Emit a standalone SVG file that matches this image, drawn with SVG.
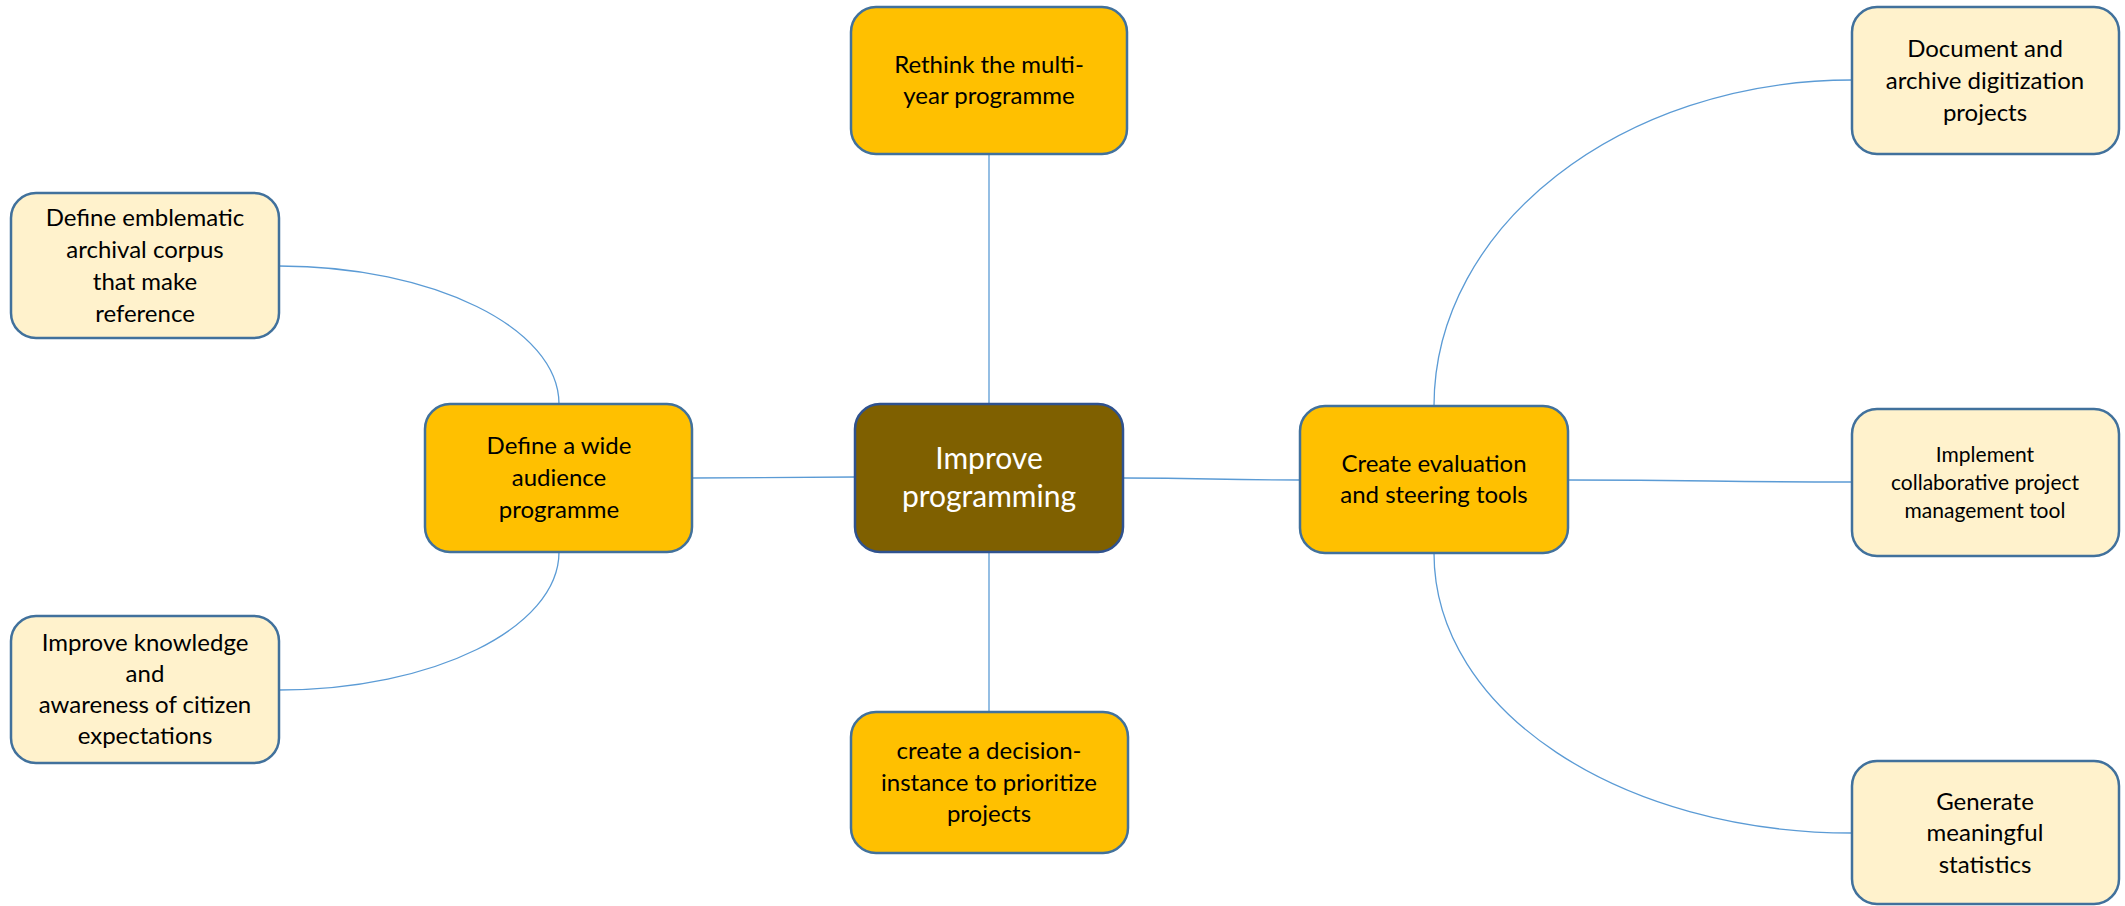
<svg xmlns="http://www.w3.org/2000/svg" width="2125" height="906" viewBox="0 0 2125 906">
<style>
.box{stroke:#41719C;stroke-width:2.5}
.main{fill:#FFC000}
.leaf{fill:#FFF2CC}
.root{fill:#7F6000;stroke:#2F528F;stroke-width:2.5}
.t{font-family:Lato,"Open Sans","Liberation Sans",sans-serif;font-size:24px;fill:#000;text-anchor:middle}
.ts{font-size:21px}
.tr{font-size:30px;fill:#fff}
.c{fill:none;stroke:#5B9BD5;stroke-width:1.3}
</style>
<rect width="2125" height="906" fill="#fff"/>
<g id="connectors">
<path class="c" d="M989,154 L989,404"/>
<path class="c" d="M989,552 L989,712"/>
<path class="c" d="M692,478 L855,477"/>
<path class="c" d="M1123,478 C1211,478 1211,480 1300,480"/>
<path class="c" d="M279,266 C433,266 559,328 559,404"/>
<path class="c" d="M279,690 C433,690 559,628 559,552"/>
<path class="c" d="M1434,406 C1434,226 1622,80 1852,80"/>
<path class="c" d="M1568,480 C1710,480 1710,482 1852,482"/>
<path class="c" d="M1434,553 C1434,712 1622,833 1852,833"/>
</g>
<g id="root">
<rect class="root" x="855" y="404" width="268" height="148" rx="25"/>
<text class="t tr" x="989" y="469">Improve</text>
<text class="t tr" x="989" y="507">programming</text>
</g>
<g id="n-rethink">
<rect class="box main" x="851" y="7" width="276" height="147" rx="25"/>
<text class="t" x="989" y="73">Rethink the multi-</text>
<text class="t" x="989" y="104">year programme</text>
</g>
<g id="n-decision">
<rect class="box main" x="851" y="712" width="277" height="141" rx="25"/>
<text class="t" x="989" y="759">create a decision-</text>
<text class="t" x="989" y="791">instance to prioritize</text>
<text class="t" x="989" y="822">projects</text>
</g>
<g id="n-audience">
<rect class="box main" x="425" y="404" width="267" height="148" rx="25"/>
<text class="t" x="559" y="454">Define a wide</text>
<text class="t" x="559" y="486">audience</text>
<text class="t" x="559" y="518">programme</text>
</g>
<g id="n-evaluation">
<rect class="box main" x="1300" y="406" width="268" height="147" rx="25"/>
<text class="t" x="1434" y="472">Create evaluation</text>
<text class="t" x="1434" y="503">and steering tools</text>
</g>
<g id="n-emblematic">
<rect class="box leaf" x="11" y="193" width="268" height="145" rx="25"/>
<text class="t" x="145" y="226">Define emblematic</text>
<text class="t" x="145" y="258">archival corpus</text>
<text class="t" x="145" y="290">that make</text>
<text class="t" x="145" y="322">reference</text>
</g>
<g id="n-knowledge">
<rect class="box leaf" x="11" y="616" width="268" height="147" rx="25"/>
<text class="t" x="145" y="651">Improve knowledge</text>
<text class="t" x="145" y="682">and</text>
<text class="t" x="145" y="713">awareness of citizen</text>
<text class="t" x="145" y="744">expectations</text>
</g>
<g id="n-document">
<rect class="box leaf" x="1852" y="7" width="267" height="147" rx="25"/>
<text class="t" x="1985" y="57">Document and</text>
<text class="t" x="1985" y="89">archive digitization</text>
<text class="t" x="1985" y="121">projects</text>
</g>
<g id="n-implement">
<rect class="box leaf" x="1852" y="409" width="267" height="147" rx="25"/>
<text class="t ts" x="1985" y="462">Implement</text>
<text class="t ts" x="1985" y="490">collaborative project</text>
<text class="t ts" x="1985" y="518">management tool</text>
</g>
<g id="n-statistics">
<rect class="box leaf" x="1852" y="761" width="267" height="143" rx="25"/>
<text class="t" x="1985" y="810">Generate</text>
<text class="t" x="1985" y="841">meaningful</text>
<text class="t" x="1985" y="873">statistics</text>
</g>
</svg>
